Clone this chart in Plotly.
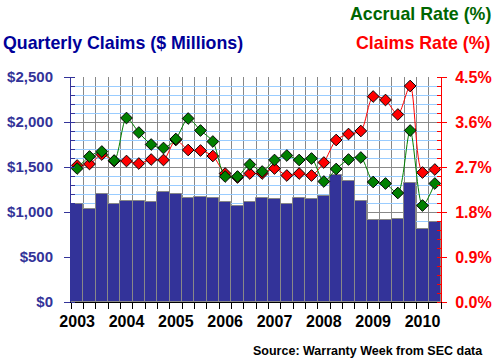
import plotly.graph_objects as go

quarters = [f"{y}Q{q}" for y in range(2003, 2011) for q in range(1, 5)][:30]
claims = [1089, 1030, 1196, 1089, 1119, 1119, 1107, 1219, 1196, 1152, 1167, 1152,
          1107, 1067, 1107, 1152, 1141, 1089, 1156, 1141, 1174, 1411, 1341, 1119,
          907, 907, 919, 1319, 807, 889]
claims_rate = [2.73, 2.76, 2.95, 2.82, 2.82, 2.77, 2.85, 2.84, 3.24, 3.04, 3.03, 2.92,
               2.57, 2.49, 2.57, 2.57, 2.67, 2.53, 2.57, 2.53, 2.79, 3.24, 3.36, 3.42,
               4.11, 4.04, 3.75, 4.32, 2.59, 2.65]
accrual_rate = [2.67, 2.91, 3.01, 2.83, 3.68, 3.39, 3.15, 3.08, 3.26, 3.67, 3.43, 3.21,
                2.51, 2.51, 2.75, 2.61, 2.84, 2.93, 2.84, 2.87, 2.41, 2.66, 2.85, 2.89,
                2.40, 2.37, 2.18, 3.43, 1.93, 2.37]
year_labels = ["2003", "2004", "2005", "2006", "2007", "2008", "2009", "2010"]
left_ticks = [0, 500, 1000, 1500, 2000, 2500]
left_labels = ["$0", "$500", "$1,000", "$1,500", "$2,000", "$2,500"]
right_ticks = [0, 0.9, 1.8, 2.7, 3.6, 4.5]
right_labels = ["0.0%", "0.9%", "1.8%", "2.7%", "3.6%", "4.5%"]

xpos = [i + 0.5 for i in range(len(quarters))]
year_pos = [i * 4 + 0.5 for i in range(len(year_labels))]

ML, MR, MT, MB = 71, 55, 77, 61
W, H = 496, 363
pw, ph = W - ML - MR, H - MT - MB


def px2paper(x, y):
    return (x - ML) / pw, (H - MB - y) / ph


fig = go.Figure()
fig.add_trace(go.Bar(x=xpos, y=claims, width=1, marker=dict(color="#333399", line=dict(color="#888888", width=1)),
                     hovertext=quarters, showlegend=False))
fig.add_trace(go.Scatter(x=xpos, y=claims_rate, yaxis="y2", mode="lines+markers",
                         line=dict(color="#FF0000", width=1, shape="spline", smoothing=0.8),
                         marker=dict(symbol="diamond", size=9, color="#FF0000", line=dict(color="#000000", width=1)),
                         showlegend=False))
fig.add_trace(go.Scatter(x=xpos, y=accrual_rate, yaxis="y2", mode="lines+markers",
                         line=dict(color="#008000", width=1, shape="spline", smoothing=0.8),
                         marker=dict(symbol="diamond", size=9, color="#008000", line=dict(color="#000000", width=1)),
                         showlegend=False))

font = "Arial, Liberation Sans, sans-serif"


def ann(text, x, y, anchor, size, color):
    ax, ay = px2paper(x, y)
    return dict(text=text, x=ax, y=ay, xref="paper", yref="paper", showarrow=False,
                xanchor=anchor, yanchor="middle", font=dict(family=font, size=size, color=color, weight="bold"))


fig.update_layout(
    width=W, height=H,
    margin=dict(l=ML, r=MR, t=MT, b=MB, autoexpand=False),
    paper_bgcolor="white", plot_bgcolor="white",
    bargap=0,
    xaxis=dict(range=[0, 30], tickvals=year_pos, ticktext=year_labels, ticks="", showgrid=False,
               showline=True, linecolor="#000000", linewidth=1, zeroline=False, automargin=False,
               ticklabelstandoff=5,
               tickfont=dict(family=font, size=16, color="#000000", weight="bold"),
               minor=dict(tick0=0, dtick=1, showgrid=True, gridcolor="#888888", gridwidth=1,
                          ticks="outside", ticklen=6, tickcolor="#000000")),
    yaxis=dict(range=[0, 2500], tickvals=left_ticks, ticktext=left_labels, ticks="outside", ticklen=6,
               tickcolor="#333399", showline=True, linecolor="#333399", linewidth=1, automargin=False,
               gridcolor="#888888", gridwidth=1, zeroline=False, ticklabelstandoff=8,
               tickfont=dict(family=font, size=15, color="#333399", weight="bold"),
               minor=dict(dtick=100, showgrid=True, gridcolor="#99CCFF", gridwidth=1,
                          ticks="inside", ticklen=4, tickcolor="#333399")),
    yaxis2=dict(range=[0, 4.5], overlaying="y", side="right", tickvals=right_ticks, ticktext=right_labels,
                ticks="outside", ticklen=5, tickcolor="#FF0000", showline=True, linecolor="#FF0000",
                linewidth=1, showgrid=False, zeroline=False, ticklabelstandoff=5, automargin=False,
                tickfont=dict(family=font, size=16, color="#FF0000", weight="bold"),
                minor=dict(dtick=0.18, ticks="inside", ticklen=4, tickcolor="#FF0000", showgrid=False)),
    annotations=[
        ann("Quarterly Claims ($ Millions)", 1, 43, "left", 17.8, "#000099"),
        ann("Accrual Rate (%)", 493, 14, "right", 17.8, "#006600"),
        ann("Claims Rate (%)", 492, 43, "right", 17.8, "#FF0000"),
        ann("Source: Warranty Week from SEC data", 485, 351, "right", 12.5, "#000000"),
    ],
)

fig.write_html("out.html", config={"displayModeBar": False},
               post_script="document.body.style.margin='0';document.body.style.overflow='hidden';")
